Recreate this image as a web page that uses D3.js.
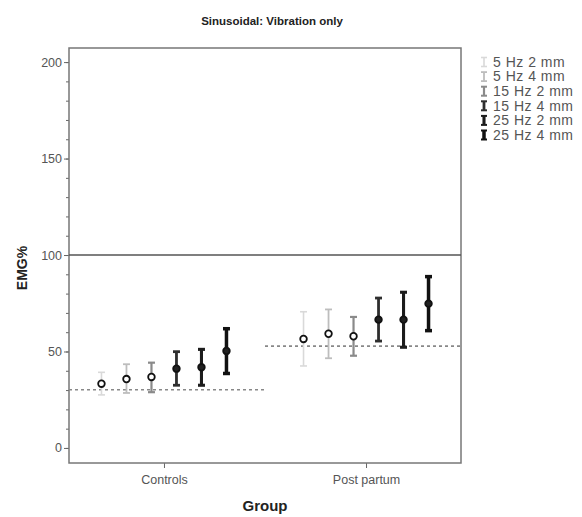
<!DOCTYPE html>
<html>
<head>
<meta charset="utf-8">
<script src="https://cdn.jsdelivr.net/npm/d3@7"></script>
<style>
  body { margin: 0; background: #fff; }
  svg { font-family: "Liberation Sans", Arial, sans-serif; }
</style>
</head>
<body>
<div id="vis"></div>
<script>
// values
const groups = ["Controls", "Post partum"];
const conditions = ["5 Hz 2 mm", "5 Hz 4 mm", "15 Hz 2 mm", "15 Hz 4 mm", "25 Hz 2 mm", "25 Hz 4 mm"];
const controlsMean = [33.3, 35.7, 36.8, 41.1, 41.8, 50.3];
const controlsLow = [27.5, 28.5, 28.9, 32.5, 32.5, 38.6];
const controlsHigh = [39.2, 43.4, 44.2, 49.9, 51.1, 61.8];
const ppMean = [56.5, 59.2, 57.9, 66.5, 66.5, 74.8];
const ppLow = [42.5, 46.5, 47.8, 55.4, 52.2, 60.8];
const ppHigh = [70.6, 71.8, 67.9, 77.7, 80.7, 88.8];
const baseline = [30.2, 52.8];
const refLine = 100;
const yTicks = [0, 50, 100, 150, 200];

const colors = ["#d9d9d9", "#bdbdbd", "#8a8a8a", "#2e2e2e", "#1c1c1c", "#111111"];
const widths = [1.6, 1.8, 2.2, 2.8, 3.1, 3.5];

var margin = { top: 48, right: 121, bottom: 54, left: 69 },
    width = 582 - margin.left - margin.right,
    height = 517 - margin.top - margin.bottom;

const rows = [];
groups.forEach((g, gi) => {
    const m = gi === 0 ? controlsMean : ppMean;
    const lo = gi === 0 ? controlsLow : ppLow;
    const hi = gi === 0 ? controlsHigh : ppHigh;
    conditions.forEach((c, ci) => {
        rows.push({ group: g, cond: c, i: ci, mean: m[ci], low: lo[ci], high: hi[ci] });
    });
});

var svg = d3.select("#vis")
    .append("svg")
    .attr("width", 582)
    .attr("height", 517);

var g = svg.append("g")
    .attr("transform", "translate(" + margin.left + "," + margin.top + ")");

var x = d3.scalePoint().domain(groups).range([0, width]).padding(0.47);
var xc = d3.scalePoint().domain(conditions).range([-62.5, 62.5]);
var y = d3.scaleLinear().domain([-7.8, 207.3]).range([height, 0]);

// minor ticks
g.append("g")
    .call(d3.axisLeft(y).tickValues(d3.range(0, 201, 10)).tickSize(3).tickFormat(""))
    .call(a => a.select(".domain").remove())
    .selectAll("line").attr("stroke", "#666");

// major y ticks
g.append("g")
    .call(d3.axisLeft(y).tickValues(yTicks).tickSize(5).tickPadding(2))
    .call(a => a.select(".domain").remove())
    .call(a => a.selectAll("line").attr("stroke", "#666"))
    .selectAll("text")
    .attr("fill", "#555")
    .style("font-size", "12.5px");

// x ticks
g.append("g")
    .attr("transform", "translate(0," + height + ")")
    .call(d3.axisBottom(x).tickSize(5).tickPadding(7))
    .call(a => a.select(".domain").remove())
    .call(a => a.selectAll("line").attr("stroke", "#666"))
    .selectAll("text")
    .attr("fill", "#555")
    .style("font-size", "12.5px");

// frame
g.append("rect")
    .attr("width", width)
    .attr("height", height)
    .attr("fill", "none")
    .attr("stroke", "#777")
    .attr("stroke-width", 1.5);

// reference line at 100
g.append("line")
    .attr("x1", 0).attr("x2", width)
    .attr("y1", y(refLine)).attr("y2", y(refLine))
    .attr("stroke", "#555")
    .attr("stroke-width", 1.3);

// dashed group baselines
const mid = (x(groups[0]) + x(groups[1])) / 2;
g.selectAll(".base")
    .data(groups)
    .enter()
    .append("line")
    .attr("class", "base")
    .attr("x1", (d, i) => i === 0 ? 0 : mid)
    .attr("x2", (d, i) => i === 0 ? mid : width)
    .attr("y1", (d, i) => y(baseline[i]))
    .attr("y2", (d, i) => y(baseline[i]))
    .attr("stroke", "#888")
    .attr("stroke-width", 1.6)
    .attr("stroke-dasharray", "3,3");

// error bars
const bars = g.selectAll(".bar")
    .data(rows)
    .enter()
    .append("g")
    .attr("class", "bar")
    .attr("transform", d => "translate(" + (x(d.group) + xc(d.cond)) + ",0)");

bars.append("line")
    .attr("y1", d => y(d.low)).attr("y2", d => y(d.high))
    .attr("stroke", d => colors[d.i])
    .attr("stroke-width", d => widths[d.i]);

bars.selectAll(".cap")
    .data(d => [d.low, d.high].map(v => ({ v: v, i: d.i })))
    .enter()
    .append("line")
    .attr("x1", -3.5).attr("x2", 3.5)
    .attr("y1", d => y(d.v)).attr("y2", d => y(d.v))
    .attr("stroke", d => colors[d.i])
    .attr("stroke-width", d => widths[d.i]);

bars.append("circle")
    .attr("cy", d => y(d.mean))
    .attr("r", 3.3)
    .attr("fill", d => d.i < 3 ? "#fff" : "#222")
    .attr("stroke", "#111")
    .attr("stroke-width", 1.8);

// title & axis labels
svg.append("text")
    .attr("x", 272).attr("y", 25)
    .attr("text-anchor", "middle")
    .style("font-size", "11.5px")
    .style("font-weight", "bold")
    .attr("fill", "#222")
    .text("Sinusoidal: Vibration only");

svg.append("text")
    .attr("x", margin.left + width / 2).attr("y", 511)
    .attr("text-anchor", "middle")
    .style("font-size", "15px")
    .style("font-weight", "bold")
    .attr("fill", "#222")
    .text("Group");

svg.append("text")
    .attr("transform", "translate(27,268) rotate(-90)")
    .attr("text-anchor", "middle")
    .style("font-size", "14px")
    .style("font-weight", "bold")
    .attr("fill", "#222")
    .text("EMG%");

// legend
const legend = svg.append("g")
    .attr("transform", "translate(484,62)");

const item = legend.selectAll(".item")
    .data(conditions)
    .enter()
    .append("g")
    .attr("transform", (d, i) => "translate(0," + (i * 14.6) + ")");

item.append("line")
    .attr("y1", -4.5).attr("y2", 4.5)
    .attr("stroke", (d, i) => colors[i])
    .attr("stroke-width", (d, i) => widths[i]);

item.selectAll(".lcap")
    .data((d, i) => [-4.5, 4.5].map(v => ({ v: v, i: i })))
    .enter()
    .append("line")
    .attr("x1", -3).attr("x2", 3)
    .attr("y1", d => d.v).attr("y2", d => d.v)
    .attr("stroke", d => colors[d.i])
    .attr("stroke-width", d => Math.min(widths[d.i], 2));

item.append("text")
    .attr("x", 9)
    .attr("y", 4.8)
    .style("font-size", "14px")
    .style("letter-spacing", "0.5px")
    .attr("fill", "#555")
    .text(d => d);
</script>
</body>
</html>
